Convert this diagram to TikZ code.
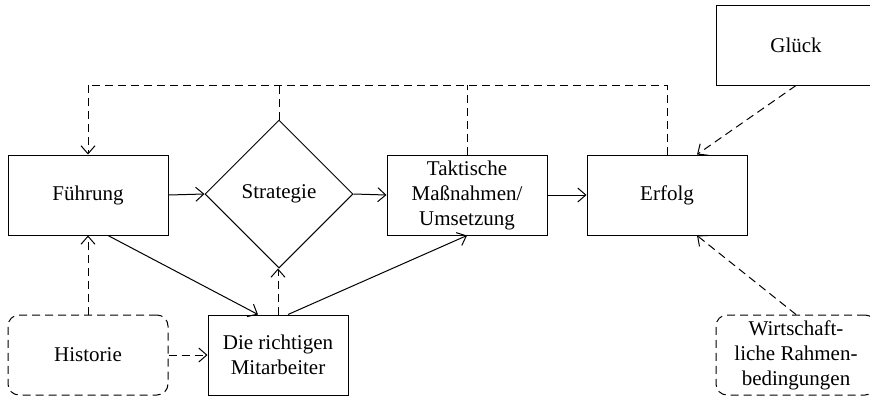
\documentclass[tikz,border=0pt]{standalone}
\usepackage{fontspec}
\setmainfont{LiberationSerif}[Extension=.ttf, UprightFont=*-Regular, BoldFont=*-Bold, ItalicFont=*-Italic, BoldItalicFont=*-BoldItalic]
\usetikzlibrary{shapes.geometric,arrows.meta}
\begin{document}
\begin{tikzpicture}[x=1pt,y=-1pt,
  every node/.style={font=\fontsize{21}{25}\selectfont, align=center, inner sep=0pt},
  boxnode/.style={draw, line width=1pt, minimum width=160pt, minimum height=80pt},
  softbox/.style={draw, line width=1pt, dashed, dash pattern=on 8pt off 5pt, rounded corners=11pt, minimum width=160pt, minimum height=80pt},
  dia/.style={draw, line width=1pt, diamond, aspect=1, minimum width=148pt, minimum height=148pt},
  solidarrow/.style={line width=1pt, -{Straight Barb[length=8pt,width=14pt]}},
  dasharrow/.style={line width=1pt, dash pattern=on 8pt off 5pt, -{Straight Barb[length=8pt,width=14pt]}},
  dashline/.style={line width=1pt, dash pattern=on 8pt off 5pt}]
\clip (0,0) rectangle (870,397);
\node[boxnode] (fu) at (88,195) {Führung};
\node[dia] (st) at (279,194) {Strategie};
\node[boxnode] (ta) at (467,195) {Taktische\\Maßnahmen/\\Umsetzung};
\node[boxnode] (er) at (667,195) {Erfolg};
\node[boxnode] (gl) at (796,45) {Glück};
\node[softbox] (hi) at (88,355) {Historie};
\node[boxnode, minimum width=140pt] (mi) at (278,355) {Die richtigen\\Mitarbeiter};
\node[softbox] (wi) at (796,355) {Wirtschaft-\\liche Rahmen-\\bedingungen};
\coordinate (top) at (88,85);
% solid flow
\draw[solidarrow] (fu.east) -- (st.west);
\draw[solidarrow] (st.east) -- (ta.west);
\draw[solidarrow] (ta.east) -- (er.west);
\draw[solidarrow] ([xshift=20pt]fu.south) -- ([xshift=-20pt]mi.north);
\draw[solidarrow] ([xshift=10pt]mi.north) -- (ta.south);
% feedback dashed
\draw[dashline] (er.north) -- (er.north |- top) -- (top);
\draw[dashline] (ta.north) -- (ta.north |- top);
\draw[dashline] (st.north) -- (st.north |- top);
\draw[dasharrow] (top) -- (fu.north);
% other dashed
\draw[dasharrow] (hi.north) -- (fu.south);
\draw[dasharrow] (hi.east) -- (mi.west);
\draw[dasharrow] (mi.north) -- (mi.north |- st.south);
\draw[dasharrow] (gl.south) -- ([xshift=30pt]er.north);
\draw[dasharrow] (wi.north) -- ([xshift=30pt]er.south);
\end{tikzpicture}
\end{document}
